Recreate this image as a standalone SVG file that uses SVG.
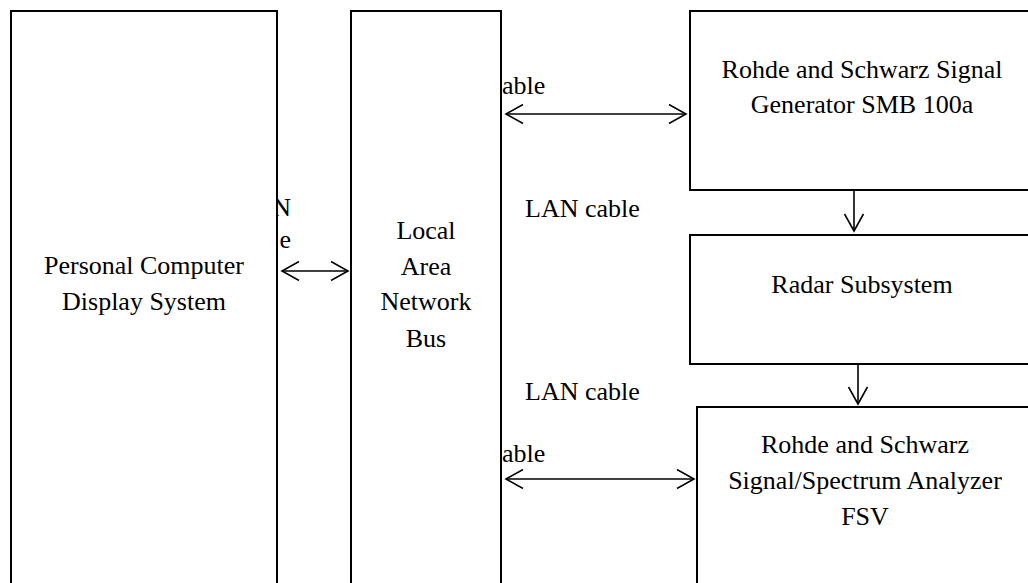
<svg xmlns="http://www.w3.org/2000/svg" width="1028" height="583" viewBox="0 0 1028 583" font-family="Liberation Serif, Times New Roman, serif" font-size="26">
<defs>
<marker id="ah" viewBox="0 0 20 20" refX="18" refY="10" markerWidth="20" markerHeight="20" markerUnits="userSpaceOnUse" orient="auto-start-reverse">
<path d="M1,0.5 L18,10 L1,19.5" fill="none" stroke="#000" stroke-width="1.6"/>
</marker>
<style>
.box{fill:#fff;stroke:#000;stroke-width:2}
.t{text-anchor:middle}
.e{text-anchor:end}
.c{fill:none;stroke:#000;stroke-width:1.6}
</style>
</defs>
<rect width="1028" height="583" fill="#fff"/>
<g id="labels">
<text class="e" x="291" y="216">N</text>
<text class="e" x="291" y="248">e</text>
<text x="502" y="94">able</text>
<text x="502" y="462">able</text>
<text x="525" y="217">LAN cable</text>
<text x="525" y="400">LAN cable</text>
</g>
<g id="pc">
<rect class="box" x="11" y="11" width="266" height="590"/>
<text class="t" x="144" y="274">Personal Computer</text>
<text class="t" x="144" y="310">Display System</text>
</g>
<g id="lan">
<rect class="box" x="351" y="11" width="150" height="590"/>
<text class="t" x="426" y="239">Local</text>
<text class="t" x="426" y="275">Area</text>
<text class="t" x="426" y="310">Network</text>
<text class="t" x="426" y="347">Bus</text>
</g>
<g id="siggen">
<rect class="box" x="690" y="11" width="360" height="179"/>
<text class="t" x="862" y="78">Rohde and Schwarz Signal</text>
<text class="t" x="862" y="113">Generator SMB 100a</text>
</g>
<g id="radar">
<rect class="box" x="690" y="235" width="360" height="129"/>
<text class="t" x="862" y="293">Radar Subsystem</text>
</g>
<g id="fsv">
<rect class="box" x="697" y="407" width="360" height="200"/>
<text class="t" x="865" y="453">Rohde and Schwarz</text>
<text class="t" x="865" y="489">Signal/Spectrum Analyzer</text>
<text class="t" x="865" y="525">FSV</text>
</g>
<g id="connectors">
<line class="c" x1="282" y1="271" x2="348" y2="271" marker-start="url(#ah)" marker-end="url(#ah)"/>
<line class="c" x1="506" y1="114" x2="686" y2="114" marker-start="url(#ah)" marker-end="url(#ah)"/>
<line class="c" x1="506" y1="479" x2="694" y2="479" marker-start="url(#ah)" marker-end="url(#ah)"/>
<line class="c" x1="854" y1="191" x2="854" y2="231" marker-end="url(#ah)"/>
<line class="c" x1="858" y1="365" x2="858" y2="404" marker-end="url(#ah)"/>
</g>
</svg>
